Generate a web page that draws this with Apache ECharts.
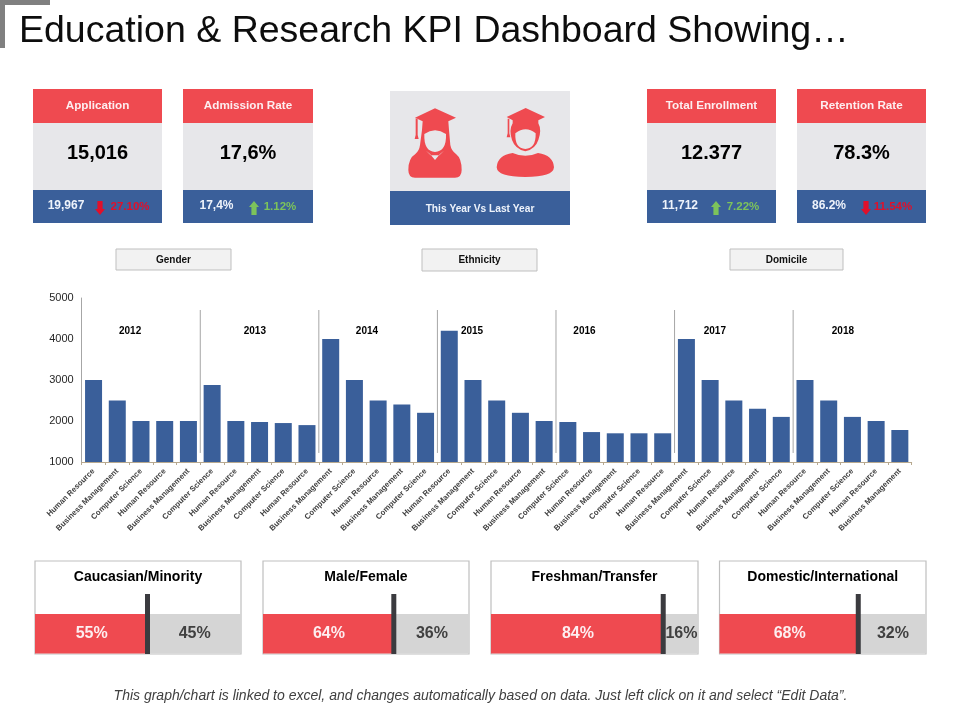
<!DOCTYPE html>
<html>
<head>
<meta charset="utf-8">
<style>html,body{margin:0;padding:0;background:#fff}#c{width:960px;height:720px}</style>
<script src="https://cdn.jsdelivr.net/npm/echarts@6/dist/echarts.min.js"></script>
</head>
<body>
<div id="c"></div>
<script>
const titleText = 'Education & Research KPI Dashboard Showing…';
const footerText = 'This graph/chart is linked to excel, and changes automatically based on data. Just left click on it and select “Edit Data”.';

const categoryCycle = ['Human Resource', 'Business Management', 'Computer Science'];
const values2012 = [3000, 2500, 2000, 2000, 2000];
const values2013 = [2880, 2000, 1975, 1950, 1900];
const values2014 = [4000, 3000, 2500, 2400, 2200];
const values2015 = [4200, 3000, 2500, 2200, 2000];
const values2016 = [1975, 1730, 1700, 1700, 1700];
const values2017 = [4000, 3000, 2500, 2300, 2100];
const values2018 = [3000, 2500, 2100, 2000, 1780];
const yTicks = [1000, 2000, 3000, 4000, 5000];
const yearNames = ['2012', '2013', '2014', '2015', '2016', '2017', '2018'];
const yearSlots = [2.04, 7.3, 12.03, 16.46, 21.2, 26.7, 32.1];
const dividerSlots = [5, 10, 15, 20, 25, 30];

const kpiTitles = ['Application', 'Admission Rate', 'Total Enrollment', 'Retention Rate'];
const kpiValues = ['15,016', '17,6%', '12.377', '78.3%'];
const kpiLastYear = ['19,967', '17,4%', '11,712', '86.2%'];
const kpiChange = ['27.10%', '1.12%', '7.22%', '11.54%'];
const kpiDirection = ['down', 'up', 'up', 'down'];
const buttonLabels = ['Gender', 'Ethnicity', 'Domicile'];
const centerLabel = 'This Year Vs Last Year';

const splitTitles = ['Caucasian/Minority', 'Male/Female', 'Freshman/Transfer', 'Domestic/International'];
const splitFirst = [55, 64, 84, 68];
const splitSecond = [45, 36, 16, 32];
const splitMarker = [54.6, 63.5, 83.2, 67.2];

const FONT = '"Liberation Sans", Arial, sans-serif';
const RED = '#ef4a50', BLUE = '#3a5f9a', PANEL = '#e7e7ea', EDGE = '#bfbfbf';

const barValues = [].concat(values2012, values2013, values2014, values2015, values2016, values2017, values2018);
const categories = barValues.map((_, i) => categoryCycle[i % 3]);

const layoutKpi = [
  {x: 33, w: 129, subX: 66, arrowX: 100, deltaX: 130},
  {x: 183, w: 130, subX: 216.5, arrowX: 254, deltaX: 280},
  {x: 647, w: 129, subX: 680, arrowX: 716, deltaX: 743},
  {x: 797, w: 129, subX: 829, arrowX: 866, deltaX: 893}
];
const layoutButtons = [{x: 116, y: 249, w: 115, h: 21}, {x: 422, y: 249, w: 115, h: 22}, {x: 730, y: 249, w: 113, h: 21}];
const layoutSplit = [{x: 35, w: 206}, {x: 263, w: 206}, {x: 491, w: 207}, {x: 719.5, w: 206.5}];

const g = [];
function rect(x, y, w, h, fill, stroke, lw) {
  g.push({type: 'rect', shape: {x, y, width: w, height: h}, style: {fill, stroke: stroke || null, lineWidth: lw || 0}, silent: true});
}
function text(t, x, y, font, fill, align) {
  g.push({type: 'text', silent: true, z: 10, style: {text: t, x, y, font, fill, textAlign: align || 'center', textVerticalAlign: 'middle'}});
}
function arrow(cx, dir, color) {
  const t = 201, b = 215, m = dir === 'up' ? 1 : -1;
  const tip = dir === 'up' ? t : b, base = dir === 'up' ? b : t;
  const mid = tip + m * 6;
  g.push({type: 'polygon', silent: true, z: 10, shape: {points: [[cx, tip], [cx + 5, mid], [cx + 2.6, mid], [cx + 2.6, base], [cx - 2.6, base], [cx - 2.6, mid], [cx - 5, mid]]}, style: {fill: color}});
}

rect(0, 0, 50, 5, '#808080');
rect(0, 0, 5, 48, '#808080');
text(titleText, 19, 32, '37.5px ' + FONT, '#0d0d0d', 'left');

layoutKpi.forEach((k, i) => {
  rect(k.x, 89, k.w, 34, RED);
  rect(k.x, 123, k.w, 67, PANEL);
  rect(k.x, 190, k.w, 33, BLUE);
  text(kpiTitles[i], k.x + k.w / 2, 105.5, 'bold 11.7px ' + FONT, '#fdeef0');
  text(kpiValues[i], k.x + k.w / 2, 153, 'bold 20px ' + FONT, '#000');
  text(kpiLastYear[i], k.subX, 206, 'bold 12px ' + FONT, '#eef3fb');
  const col = kpiDirection[i] === 'up' ? '#7dc35b' : '#e0102a';
  arrow(k.arrowX, kpiDirection[i], col);
  text(kpiChange[i], k.deltaX, 207, 'bold 11.5px ' + FONT, col);
});

rect(390, 91, 180, 100, PANEL);
rect(390, 191, 180, 34, BLUE);
text(centerLabel, 480, 209, 'bold 10.2px ' + FONT, '#eef3fb');

layoutButtons.forEach((b, i) => {
  rect(b.x, b.y, b.w, b.h, '#f2f2f2', EDGE, 1);
  text(buttonLabels[i], b.x + b.w / 2, b.y + b.h / 2 + 0.5, 'bold 10px ' + FONT, '#111');
});

layoutSplit.forEach((p, i) => {
  rect(p.x, 561, p.w, 93, '#fff', EDGE, 1.2);
  text(splitTitles[i], p.x + p.w / 2, 577, 'bold 14px ' + FONT, '#000');
});

text(footerText, 480.5, 696, 'italic 14px ' + FONT, '#404040');

// graduate icons: paths authored in a 600x600 space covering the 200x200 area at (380,80)
const box = 'M0 0 L0 0.01 M600 600 L600 599.99 ';
const iconShapes = [
  [box + 'M165 85 L228 113 L205 124 L207 150 L211 195 Q214 212 228 222 Q245 235 245 270 Q245 293 225 293 L105 293 Q85 293 85 270 Q85 235 106 222 Q118 212 120 195 L126 150 L128 124 L105 113 Z', RED],
  [box + 'M107 115 L113 118 L113 165 L116 177 L104 177 L107 165 Z', RED],
  [box + 'M133 162 Q165 140 198 162 Q200 214 165 216 Q131 214 133 162 Z M138 212 L150 222 L165 240 L180 222 L192 212 L178 226 L165 226 L152 226 Z', PANEL],
  [box + 'M437 84 L495 111 L475 121 L475 130 Q486 150 475 180 Q466 208 436 214 Q406 208 396 180 Q386 150 398 130 L398 121 L380 111 Z', RED],
  [box + 'M383 116 L388 116 L388 160 L391 172 L380 172 L383 160 Z', RED],
  [box + 'M350 262 Q352 226 398 219 Q436 236 474 219 Q520 226 522 262 Q520 291 436 291 Q352 291 350 262 Z', RED],
  [box + 'M406 160 Q437 135 467 160 Q468 206 436 207 Q404 206 406 160 Z', PANEL]
];

const grids = [{left: 81.7, right: 48.3, top: 298, height: 164}];
const xAxes = [
  {type: 'category', gridIndex: 0, data: categories,
   axisLine: {lineStyle: {color: '#b8a98f', width: 1}},
   axisTick: {show: true, length: 3, lineStyle: {color: '#b8a98f'}},
   axisLabel: {interval: 0, rotate: 45, margin: 8, fontSize: 7.8, fontWeight: 'bold', color: '#404040', fontFamily: FONT}},
  {type: 'value', gridIndex: 0, min: 0, max: 35, show: false}
];
const yAxes = [
  {type: 'value', gridIndex: 0, min: yTicks[0], max: yTicks[yTicks.length - 1], interval: 1000,
   splitLine: {show: false}, axisTick: {show: false},
   axisLine: {show: true, lineStyle: {color: '#a6a6a6'}},
   axisLabel: {fontSize: 11, color: '#262626', margin: 8, fontFamily: FONT, formatter: v => String(v)}}
];
const series = [
  {type: 'custom', coordinateSystem: 'none', data: [[0]], z: 5, silent: true,
   renderItem: () => ({type: 'group', children: iconShapes.map(s => ({
     type: 'path', shape: {pathData: s[0], x: 380, y: 80, width: 200, height: 200, layout: 'cover'}, style: {fill: s[1]}
   }))})},
  {type: 'bar', xAxisIndex: 0, yAxisIndex: 0, data: barValues, barWidth: 17, itemStyle: {color: BLUE}, z: 2},
  {type: 'custom', xAxisIndex: 1, yAxisIndex: 0, data: dividerSlots.map(v => [v]), z: 3, clip: false,
   renderItem: (params, api) => {
     const a = api.coord([api.value(0), 4707]), b = api.coord([api.value(0), 1220]);
     return {type: 'line', shape: {x1: a[0], y1: a[1], x2: b[0], y2: b[1]}, style: {stroke: '#a6a6a6', lineWidth: 1}};
   }},
  {type: 'scatter', xAxisIndex: 1, yAxisIndex: 0, symbolSize: 0, z: 4, silent: true, itemStyle: {opacity: 1},
   data: yearNames.map((n, i) => ({value: [yearSlots[i], 4178], name: n})),
   label: {show: true, position: 'inside', formatter: p => p.name, fontSize: 10, fontWeight: 'bold', color: '#000', opacity: 1, fontFamily: FONT}}
];

layoutSplit.forEach((p, i) => {
  const gi = i + 1, xi = i + 2;
  grids.push({left: p.x, width: p.w, top: 614, height: 39.5});
  xAxes.push({type: 'value', gridIndex: gi, min: 0, max: 100, show: false});
  yAxes.push({type: 'category', gridIndex: gi, data: [splitTitles[i]], show: false});
  const lab = color => ({show: true, position: 'inside', formatter: '{c}%', fontSize: 16, fontWeight: 'bold', color, fontFamily: FONT});
  series.push(
    {type: 'bar', xAxisIndex: xi, yAxisIndex: gi, stack: 's' + i, data: [splitFirst[i]], barWidth: '100%', itemStyle: {color: RED}, label: lab('#fdeef0'), z: 2},
    {type: 'bar', xAxisIndex: xi, yAxisIndex: gi, stack: 's' + i, data: [splitSecond[i]], barWidth: '100%', itemStyle: {color: '#d5d5d5'}, label: lab('#404040'), z: 2},
    {type: 'custom', xAxisIndex: xi, yAxisIndex: gi, z: 4, clip: false, data: [[splitMarker[i]]],
     renderItem: (params, api) => {
       const c = api.coord([api.value(0), 0]);
       const bottom = params.coordSys.y + params.coordSys.height + 0.5;
       return {type: 'rect', shape: {x: c[0] - 2.5, y: bottom - 60, width: 5, height: 60}, style: {fill: '#3b3b3f'}};
     }}
  );
});

const chart = echarts.init(document.getElementById('c'), null, {renderer: 'canvas'});
chart.setOption({animation: false, backgroundColor: '#fff', textStyle: {fontFamily: FONT}, tooltip: {show: false},
  grid: grids, xAxis: xAxes, yAxis: yAxes, series, graphic: {elements: g}});
</script>
</body>
</html>
